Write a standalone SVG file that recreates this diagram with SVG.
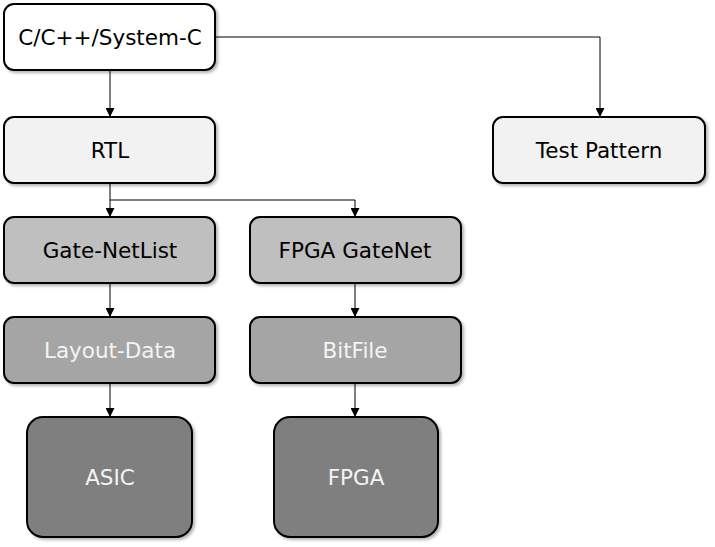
<svg xmlns="http://www.w3.org/2000/svg" width="715" height="547" viewBox="0 0 715 547">
<defs>
<filter id="sh" x="-10%" y="-10%" width="130%" height="140%">
<feDropShadow dx="2" dy="2" stdDeviation="1.5" flood-color="#000" flood-opacity="0.3"/>
</filter>
<marker id="ar" viewBox="0 0 10 10" refX="10" refY="5" markerWidth="9" markerHeight="9" markerUnits="userSpaceOnUse" orient="auto">
<path d="M0,0 L10,5 L0,10 Z" fill="#000"/>
</marker>
<style>
.box{stroke:#000;stroke-width:2;filter:url(#sh)}
.t{font-family:"DejaVu Sans",Verdana,sans-serif;font-size:21.5px;text-anchor:middle}
.dk{fill:#000}
.lt{fill:#f4f4f4}
.c{fill:none;stroke:#000;stroke-width:1;marker-end:url(#ar)}
</style>
</defs>
<g id="connectors">
<path class="c" d="M110,70 V117"/>
<path class="c" d="M215,37 H600 V117"/>
<path class="c" d="M110,183 V217"/>
<path class="c" d="M110,200 H355 V217"/>
<path class="c" d="M110,283 V317"/>
<path class="c" d="M355,283 V317"/>
<path class="c" d="M110,383 V417"/>
<path class="c" d="M355,383 V417"/>
</g>
<g id="n-src">
<rect class="box" x="4" y="4" width="211" height="66" rx="10" fill="#ffffff"/>
<text class="t dk" x="110" y="45">C/C++/System-C</text>
</g>
<g id="n-rtl">
<rect class="box" x="4" y="117" width="211" height="66" rx="10" fill="#f2f2f2"/>
<text class="t dk" x="110" y="158">RTL</text>
</g>
<g id="n-test">
<rect class="box" x="493" y="117" width="212" height="66" rx="10" fill="#f2f2f2"/>
<text class="t dk" x="599" y="158">Test Pattern</text>
</g>
<g id="n-gate">
<rect class="box" x="4" y="217" width="211" height="66" rx="10" fill="#bfbfbf"/>
<text class="t dk" x="110" y="258">Gate-NetList</text>
</g>
<g id="n-fpgagate">
<rect class="box" x="250" y="217" width="211" height="66" rx="10" fill="#bfbfbf"/>
<text class="t dk" x="355" y="258">FPGA GateNet</text>
</g>
<g id="n-layout">
<rect class="box" x="4" y="317" width="211" height="66" rx="10" fill="#a5a5a5"/>
<text class="t lt" x="110" y="358">Layout-Data</text>
</g>
<g id="n-bitfile">
<rect class="box" x="250" y="317" width="211" height="66" rx="10" fill="#a5a5a5"/>
<text class="t lt" x="355" y="358">BitFile</text>
</g>
<g id="n-asic">
<rect class="box" x="27" y="417" width="165" height="120" rx="16" fill="#7f7f7f"/>
<text class="t lt" x="110" y="485">ASIC</text>
</g>
<g id="n-fpga">
<rect class="box" x="274" y="417" width="164" height="120" rx="16" fill="#7f7f7f"/>
<text class="t lt" x="356" y="485">FPGA</text>
</g>
</svg>
